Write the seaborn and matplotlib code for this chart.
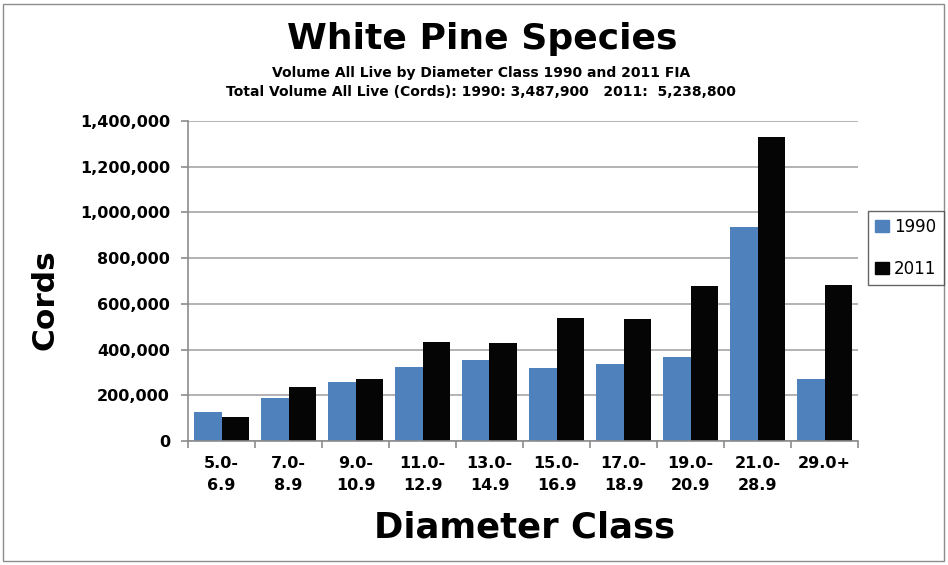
import numpy as np
import pandas as pd
import matplotlib
matplotlib.use("Agg")
import matplotlib.pyplot as plt
import seaborn as sns
from matplotlib.patches import Rectangle
from matplotlib.ticker import FuncFormatter, FixedLocator

# data
classes = ["5.0-\n6.9", "7.0-\n8.9", "9.0-\n10.9", "11.0-\n12.9", "13.0-\n14.9",
           "15.0-\n16.9", "17.0-\n18.9", "19.0-\n20.9", "21.0-\n28.9", "29.0+"]
vol_1990 = [128300, 188100, 258100, 323700, 352900, 319400, 338300, 369000, 937700, 272700]
vol_2011 = [106500, 237700, 272700, 434600, 430200, 539600, 535200, 679600, 1331500, 684000]
years = ["1990", "2011"]
colors = ["#4F81BD", "#050505"]

df = pd.DataFrame({
    "cls": classes * 2,
    "year": [years[0]] * len(classes) + [years[1]] * len(classes),
    "cords": vol_1990 + vol_2011,
})

sns.set_style("white")
plt.rcParams["font.family"] = ["DejaVu Sans"]
plt.rcParams["text.color"] = "black"
plt.rcParams["xtick.color"] = "black"
plt.rcParams["ytick.color"] = "black"

fig = plt.figure(figsize=(9.48, 5.65), dpi=100)
ax = fig.add_axes([188 / 948, 1 - 441 / 565, 670 / 948, 320 / 565])

sns.barplot(data=df, x="cls", y="cords", hue="year", palette=colors,
            width=0.81, saturation=1, linewidth=0, ax=ax, legend=False)

ax.set_ylim(0, 1400000)
ax.set_xlim(-0.5, len(classes) - 0.5)
ax.set_yticks(np.arange(0, 1400001, 200000))
ax.yaxis.set_major_formatter(FuncFormatter(lambda v, p: f"{int(v):,}"))
ax.yaxis.grid(True, color="#a6a6a6", linewidth=1.2)
ax.set_axisbelow(True)

for s in ["top", "right"]:
    ax.spines[s].set_visible(False)
for s in ["left", "bottom"]:
    ax.spines[s].set_color("#8c8c8c")
    ax.spines[s].set_linewidth(1.2)

ax.tick_params(axis="y", length=5, color="#8c8c8c", width=1.2, left=True,
               labelsize=11.5, pad=8, labelcolor="black")
ax.tick_params(axis="x", which="major", length=0, labelsize=11.5, pad=11,
               labelcolor="black")
ax.xaxis.set_minor_locator(FixedLocator(np.arange(-0.5, len(classes), 1.0)))
ax.tick_params(axis="x", which="minor", length=5, color="#8c8c8c", width=1.2, bottom=True)
for lab in ax.get_xticklabels() + ax.get_yticklabels():
    lab.set_fontweight("bold")
for lab in ax.get_xticklabels():
    lab.set_linespacing(1.55)

ax.set_xlabel("")
ax.set_ylabel("")
fig.text(525 / 948, 1 - 527 / 565, "Diameter Class",
         ha="center", va="center", fontsize=25.5, fontweight="bold")
fig.text(45 / 948, 1 - 300 / 565, "Cords", ha="center", va="center",
         rotation=90, fontsize=22.5, fontweight="bold")

fig.text(482 / 948, 1 - 39 / 565, "White Pine Species", ha="center", va="center",
         fontsize=26, fontweight="bold")
fig.text(481 / 948, 1 - 73 / 565, "Volume All Live by Diameter Class 1990 and 2011 FIA",
         ha="center", va="center", fontsize=10, fontweight="bold")
fig.text(481 / 948, 1 - 92 / 565,
         "Total Volume All Live (Cords): 1990: 3,487,900   2011:  5,238,800",
         ha="center", va="center", fontsize=10, fontweight="bold")

handles = [Rectangle((0, 0), 1, 1, color=c) for c in colors]
leg = fig.legend(handles, years, loc="upper left",
                 bbox_to_anchor=(868 / 948, 1 - 211 / 565), frameon=True,
                 fancybox=False, edgecolor="#404040", fontsize=12,
                 handlelength=0.85, handleheight=0.7, labelspacing=1.45,
                 borderpad=0.42, handletextpad=0.3, borderaxespad=0)
leg.get_frame().set_linewidth(1.0)

# outer chart border
fig.patches.append(Rectangle((3 / 948, 4 / 565), 941 / 948, 557 / 565,
                             transform=fig.transFigure, fill=False,
                             edgecolor="#8c8c8c", linewidth=1.0))

fig.savefig("out.png", dpi=100)
plt.close(fig)
